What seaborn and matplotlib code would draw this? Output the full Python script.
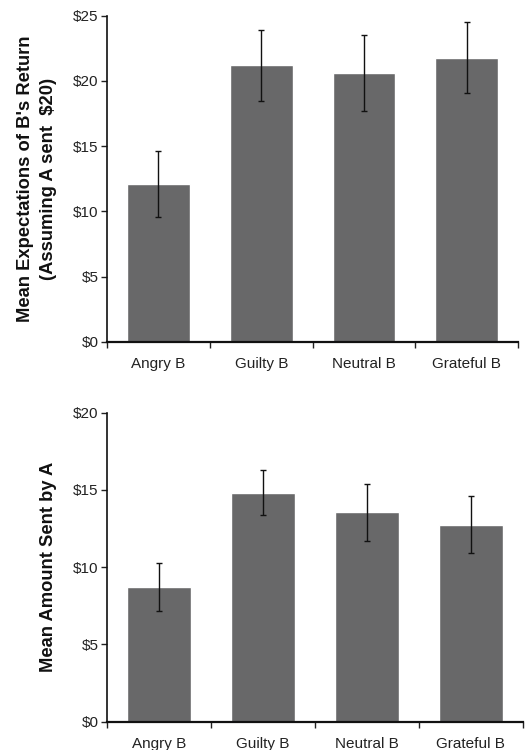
# Librerias
import pandas as pd
import matplotlib
matplotlib.use("Agg")
import matplotlib.pyplot as plt
import seaborn as sns
from matplotlib.ticker import FixedLocator, FuncFormatter

# 0. Configuracion general
sns.set_theme(style="white")
plt.rcParams["font.family"] = ["Liberation Sans", "DejaVu Sans"]

# 1. Datos
categorias = ["Angry B", "Guilty B", "Neutral B", "Grateful B"]
expectativa = [12.1, 21.2, 20.6, 21.8]
expectativa_err = [2.5, 2.7, 2.9, 2.75]
enviado = [8.7, 14.8, 13.55, 12.75]
enviado_err = [1.58, 1.45, 1.85, 1.83]

df_top = pd.DataFrame({"cat": categorias, "val": expectativa, "err": expectativa_err})
df_bot = pd.DataFrame({"cat": categorias, "val": enviado, "err": enviado_err})

fig = plt.figure(figsize=(5.25, 7.5), dpi=100)
ax1 = fig.add_axes([0.204, 0.544, 0.783, 0.435])
ax2 = fig.add_axes([0.204, 0.038, 0.792, 0.412])

color_barra = "#686869"


def dibujar(ax, df, ymax, ylabel):
    sns.barplot(data=df, x="cat", y="val", color=color_barra, width=0.61,
                saturation=1, errorbar=None, ax=ax)
    ax.errorbar(df["cat"], df["val"], yerr=df["err"], fmt="none",
                ecolor="#111111", elinewidth=1, capsize=2.3, capthick=1)
    ax.set_xlim(-0.5, len(df) - 0.5)
    ax.set_ylim(0, ymax)
    ax.set_yticks(range(0, ymax + 1, 5))
    ax.yaxis.set_major_formatter(FuncFormatter(lambda v, p: f"${v:.0f}"))
    ax.xaxis.set_minor_locator(FixedLocator([i - 0.5 for i in range(len(df) + 1)]))
    ax.tick_params(axis="x", which="major", length=0, pad=11, labelsize=11, colors="#222222")
    ax.tick_params(axis="x", which="minor", length=4, width=1, color="#222222", direction="out", bottom=True)
    ax.tick_params(axis="y", length=4, width=1, color="#222222", direction="out", left=True,
                   labelsize=11, labelcolor="#222222", pad=2)
    for s in ["top", "right"]:
        ax.spines[s].set_visible(False)
    ax.spines["left"].set_color("#111111")
    ax.spines["left"].set_linewidth(1.2)
    ax.spines["bottom"].set_color("#111111")
    ax.spines["bottom"].set_linewidth(1.6)
    ax.set_xlabel("")
    ax.set_ylabel(ylabel, fontsize=13.2, fontweight="bold", color="#111111",
                  labelpad=12, linespacing=1.4)


dibujar(ax1, df_top, 25, "Mean Expectations of B's Return\n(Assuming A sent  $20)")
dibujar(ax2, df_bot, 20, "Mean Amount Sent by A")

fig.savefig("out.png", dpi=100)
